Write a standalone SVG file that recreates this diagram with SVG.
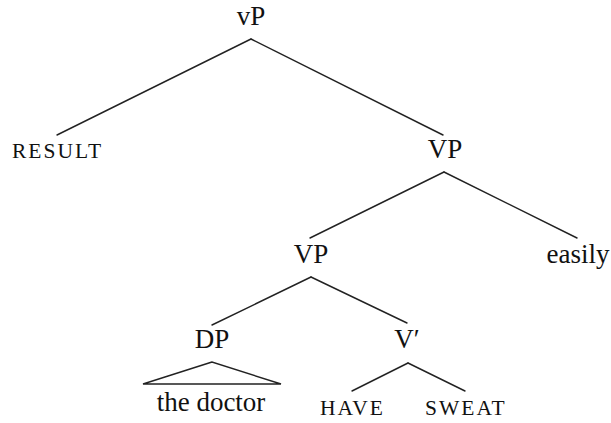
<svg xmlns="http://www.w3.org/2000/svg" width="611" height="423" viewBox="0 0 611 423">
<style>
text{font-family:'Liberation Serif','Times New Roman',serif;fill:#111}
.lbl{font-size:27px;text-anchor:middle}
.sc{font-size:21.5px;letter-spacing:2px}
.edge{stroke:#222;stroke-width:1.4;fill:none;stroke-linecap:round}
</style>
<rect width="611" height="423" fill="#fff"/>
<g id="connectors">
<line class="edge" x1="251" y1="39" x2="57" y2="135"/>
<line class="edge" x1="251" y1="39" x2="443" y2="135"/>
<line class="edge" x1="444" y1="172" x2="310" y2="238"/>
<line class="edge" x1="444" y1="172" x2="577" y2="238"/>
<line class="edge" x1="311" y1="277" x2="212" y2="325"/>
<line class="edge" x1="311" y1="277" x2="407" y2="323"/>
<line class="edge" x1="408" y1="363" x2="352" y2="391"/>
<line class="edge" x1="408" y1="363" x2="465" y2="391"/>
</g>
<g id="n-vP"><text class="lbl" x="251" y="25">vP</text></g>
<g id="n-result"><text class="sc" x="12" y="158">RESULT</text></g>
<g id="n-VP1"><text class="lbl" x="445" y="158">VP</text></g>
<g id="n-VP2"><text class="lbl" x="311" y="263">VP</text></g>
<g id="n-easily"><text class="lbl" x="578" y="263">easily</text></g>
<g id="n-DP"><text class="lbl" x="212" y="348">DP</text></g>
<g id="n-Vbar"><text class="lbl" x="407" y="348">V′</text></g>
<g id="n-thedoctor">
<polygon class="edge" points="212,362 143,384 281,384"/>
<text class="lbl" x="211" y="411">the doctor</text>
</g>
<g id="n-have"><text class="sc" x="320" y="415">HAVE</text></g>
<g id="n-sweat"><text class="sc" x="425" y="415">SWEAT</text></g>
</svg>
